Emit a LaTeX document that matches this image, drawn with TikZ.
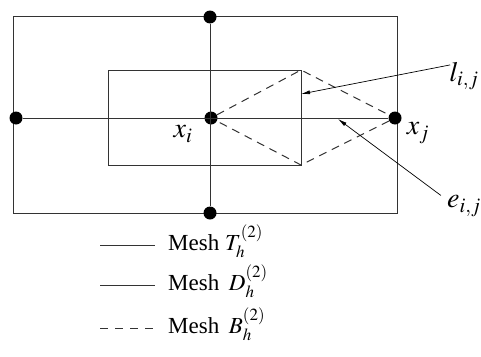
\documentclass[tikz,border=0pt]{standalone}
\usepackage{mathptmx}
\usepackage{fontspec}
\setmainfont{Liberation Serif}
\usetikzlibrary{arrows.meta}

\begin{document}
\begin{tikzpicture}[x=1pt, y=-1pt,
    dot/.style={circle, fill=black, inner sep=0pt, minimum size=13pt},
    mesh/.style={line width=1pt, draw=black!80},
    dashmesh/.style={mesh, dash pattern=on 8pt off 6pt},
    pointer/.style={-{Latex[length=9pt,width=4pt]}, line width=0.7pt},
    lbl/.style={font=\fontsize{28}{32}\selectfont, inner sep=0pt},
    legend/.style={anchor=base west, font=\fontsize{23}{27}\selectfont, inner sep=0pt}
  ]
    \useasboundingbox (0,0) rectangle (481,356);
    % meshes
    \draw[mesh] (13,16) rectangle (397,213);
    \draw[mesh] (108,70) rectangle (301,165);
    \node[dot] (top) at (210,17) {};
    \node[dot] (bot) at (210,213) {};
    \node[dot] (left) at (16,118) {};
    \node[dot] (xi) at (211,118) {};
    \node[dot] (xj) at (395,118) {};
    \draw[mesh] (top) -- (bot);
    \draw[mesh] (left) -- (xj);
    \coordinate (c1) at (301,70);
    \coordinate (c2) at (301,165);
    \draw[dashmesh] (xi) -- (c1) -- (xj) -- (c2) -- (xi);
    % labels
    \node[lbl] (xilbl) at (183,134) {$x_i$};
    \node[lbl] (xjlbl) at (418,133) {$x_j$};
    \node[lbl] (lij) at (464,76) {$l_{i,j}$};
    \node[lbl] (eij) at (464,206) {$e_{i,j}$};
    \coordinate (lend) at (301,94);
    \coordinate (eend) at (338,119);
    \draw[pointer] ([xshift=1pt,yshift=-3pt]lij.north west) -- (lend);
    \draw[pointer] ([xshift=-6pt]eij.north west) -- (eend);
    % legend
    \node[legend] (legT) at (168,250) {Mesh $T_h^{(2)}$};
    \node[legend] (legD) at (168,290) {Mesh \,$D_h^{(2)}$};
    \node[legend] (legB) at (168,333) {Mesh \,$B_h^{(2)}$};
    \draw[mesh] (100,245) -- (155,245);
    \draw[mesh] (100,285) -- (155,285);
    \draw[mesh, dash pattern=on 8pt off 7pt] (100,328) -- (155,328);
  \end{tikzpicture}
\end{document}
